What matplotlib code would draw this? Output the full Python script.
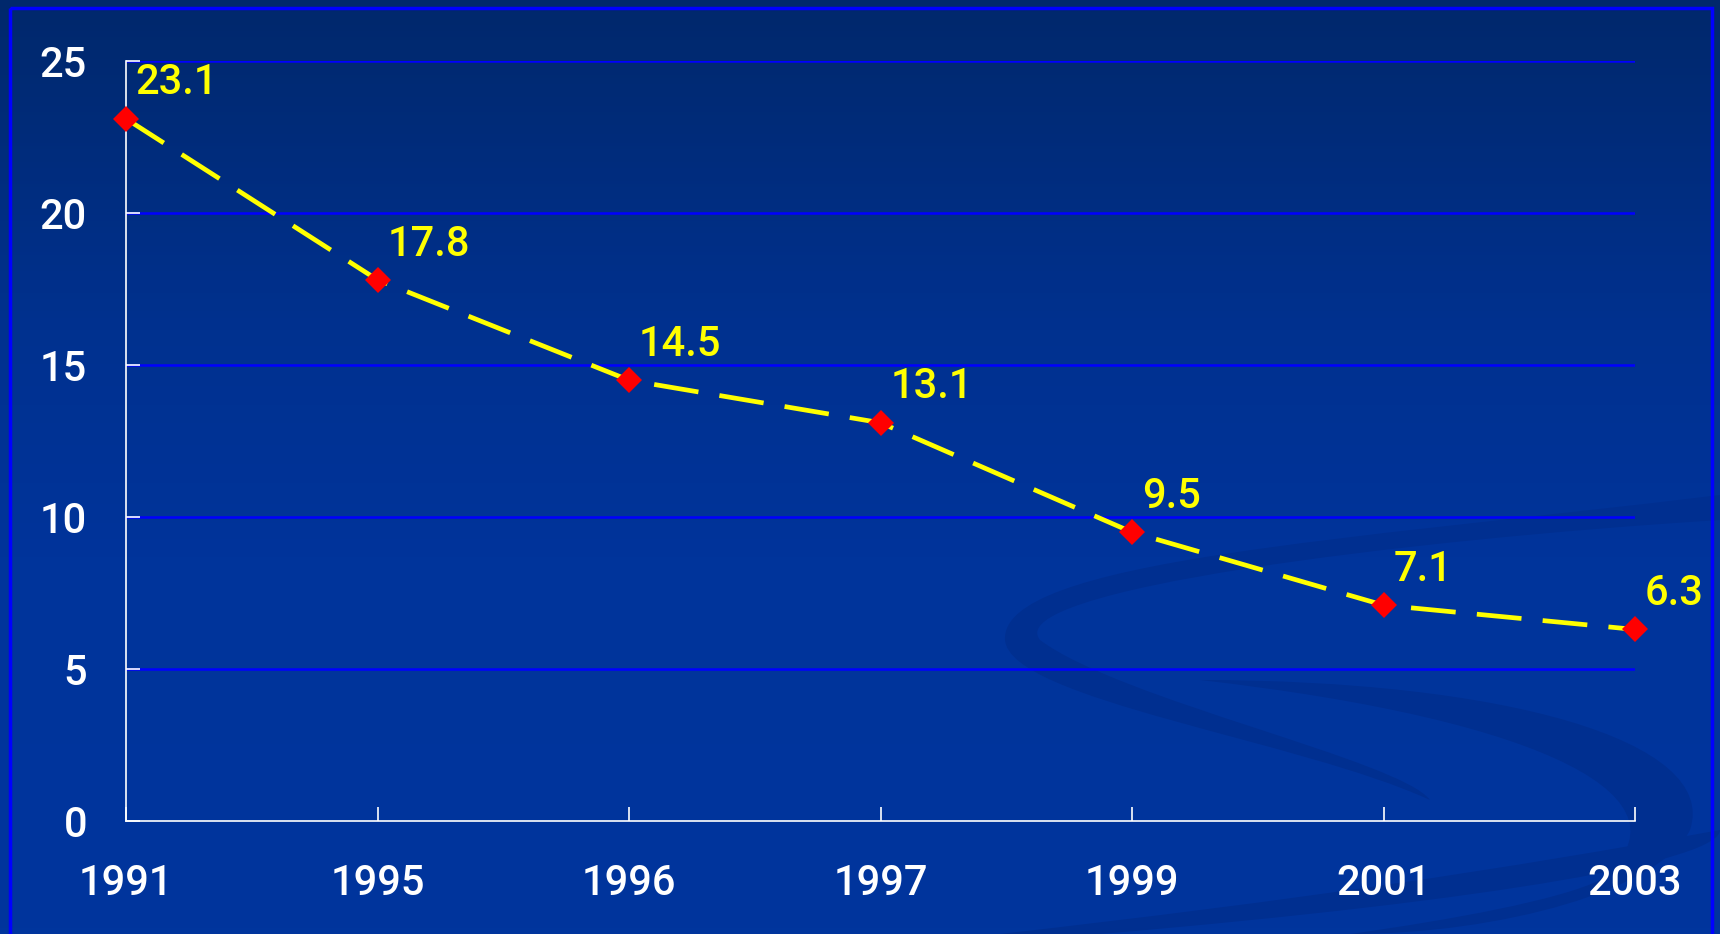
import numpy as np
import matplotlib.pyplot as plt
from matplotlib.path import Path
from matplotlib.patches import PathPatch, Rectangle
import matplotlib.colors as colors

# data
years = ['1991', '1995', '1996', '1997', '1999', '2001', '2003']
values = [23.1, 17.8, 14.5, 13.1, 9.5, 7.1, 6.3]
yticks = [0, 5, 10, 15, 20, 25]

W, H = 1720, 934
fig = plt.figure(figsize=(W/100, H/100), dpi=100)

# background gradient (dark navy at top -> royal blue)
bg = fig.add_axes([0, 0, 1, 1])
bg.set_xlim(0, W)
bg.set_ylim(H, 0)
bg.axis('off')
grad = np.linspace(0, 1, 300).reshape(-1, 1)
cmap = colors.LinearSegmentedColormap.from_list(
    'bg', [(0.0, '#00286c'), (0.35, '#00318f'), (0.6, '#00349b'), (1.0, '#00359d')])
bg.imshow(grad, aspect='auto', cmap=cmap, extent=[0, W, H, 0], zorder=0)

# faint swoosh decorations in the lower right
swoosh = '#002f90'
verts = [(1720, 495), (1350, 540), (1000, 560), (1005, 640),
         (1010, 700), (1300, 740), (1430, 800),
         (1400, 760), (1120, 700), (1040, 640),
         (1000, 590), (1400, 540), (1720, 520), (1720, 495)]
codes = [Path.MOVETO, Path.CURVE4, Path.CURVE4, Path.CURVE4,
         Path.CURVE4, Path.CURVE4, Path.CURVE4,
         Path.CURVE4, Path.CURVE4, Path.CURVE4,
         Path.CURVE4, Path.CURVE4, Path.CURVE4, Path.CLOSEPOLY]
bg.add_patch(PathPatch(Path(verts, codes), fc=swoosh, ec='none', zorder=1))
verts2 = [(1100, 934), (1500, 900), (1720, 860), (1720, 830),
          (1500, 870), (1300, 900), (1000, 934), (1100, 934)]
codes2 = [Path.MOVETO, Path.CURVE4, Path.CURVE4, Path.CURVE4,
          Path.CURVE4, Path.CURVE4, Path.CURVE4, Path.CLOSEPOLY]
bg.add_patch(PathPatch(Path(verts2, codes2), fc=swoosh, ec='none', zorder=1))
verts3 = [(1200, 680), (1550, 720), (1700, 800), (1600, 880),
          (1560, 900), (1450, 920), (1350, 934),
          (1500, 934), (1660, 890), (1690, 830),
          (1720, 740), (1500, 680), (1200, 680)]
codes3 = [Path.MOVETO, Path.CURVE4, Path.CURVE4, Path.CURVE4,
          Path.CURVE4, Path.CURVE4, Path.CURVE4,
          Path.CURVE4, Path.CURVE4, Path.CURVE4,
          Path.CURVE4, Path.CURVE4, Path.CURVE4]
bg.add_patch(PathPatch(Path(verts3, codes3), fc=swoosh, ec='none', zorder=1))

# blue frame
bg.add_patch(Rectangle((9.5, 7.5), 1702, 940, fill=False, ec='#0000ff', lw=2.5, zorder=2))

# main chart
ax = fig.add_axes([126/W, 1-821/H, (1635-126)/W, (821-61)/H])
ax.patch.set_alpha(0)
x = np.arange(len(years))

ax.set_xlim(0, len(years)-1)
ax.set_ylim(0, 25)
ax.set_yticks(yticks)
ax.set_xticks(x)
ax.set_xticklabels(years)

for yv in yticks[1:]:
    ax.axhline(yv, color='#0000ff', lw=1.8, zorder=1)

line, = ax.plot(x, values, color='#ffff00', lw=3.4, zorder=3, clip_on=False)
line.set_dashes((9.5, 4.5))
ax.plot(x, values, 'D', color='#ff0000', ms=13.5, mew=0, zorder=4, clip_on=False)

fnt = 'Roboto'
for xi, v in zip(x, values):
    ax.annotate('%.1f' % v, (xi, v), xytext=(7, 11), textcoords='offset points',
                ha='left', va='bottom', color='#ffff00', fontsize=30,
                family=fnt, weight='medium', zorder=5)

for s in ['top', 'right']:
    ax.spines[s].set_visible(False)
for s in ['left', 'bottom']:
    ax.spines[s].set_color('white')
    ax.spines[s].set_linewidth(1.2)

ax.tick_params(axis='both', direction='in', colors='white', length=10, width=1.2,
               labelsize=30)
ax.tick_params(axis='y', pad=28)
ax.tick_params(axis='x', pad=30)
for lab in ax.get_xticklabels() + ax.get_yticklabels():
    lab.set_family(fnt)
    lab.set_weight('medium')
    lab.set_color('white')

fig.savefig('out.png', dpi=100)
